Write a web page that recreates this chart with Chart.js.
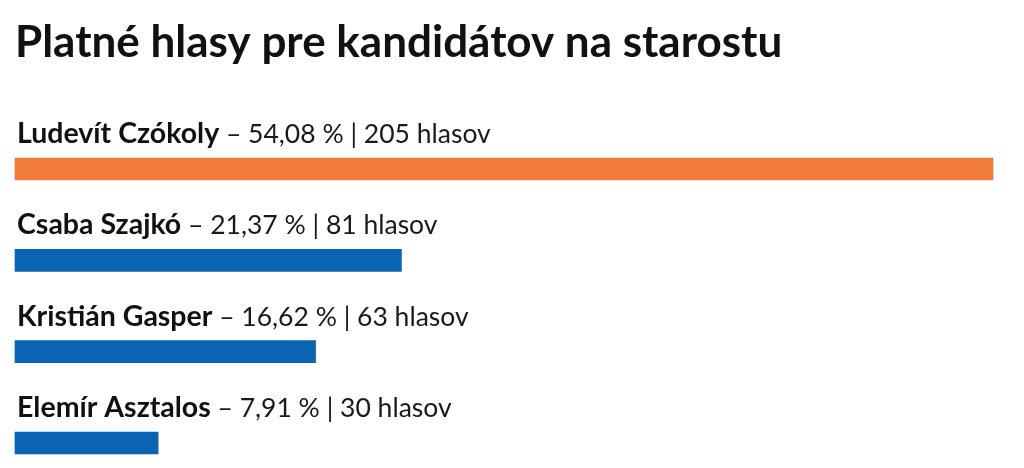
<!DOCTYPE html>
<html>
<head>
<meta charset="utf-8">
<script src="https://cdn.jsdelivr.net/npm/chart.js@4/dist/chart.umd.min.js"></script>
<style>
  html, body { margin: 0; padding: 0; background: #ffffff; }
  #wrap { position: relative; width: 1024px; height: 468px; }
</style>
</head>
<body>
<div id="wrap"><canvas id="c" width="1024" height="468"></canvas></div>
<script>
const titleText = 'Platné hlasy pre kandidátov na starostu';
const candidates = ['Ludevít Czókoly', 'Csaba Szajkó', 'Kristián Gasper', 'Elemír Asztalos'];
const votes = [205, 81, 63, 30];
const percents = [54.08, 21.37, 16.62, 7.91];
const barColors = ['#F07B3A', '#0B63B3', '#0B63B3', '#0B63B3'];

const FONT = 'Lato, "Noto Sans", sans-serif';

const labelPlugin = {
  id: 'barLabels',
  afterDatasetsDraw(chart) {
    const ctx = chart.ctx;
    const meta = chart.getDatasetMeta(0);
    ctx.save();
    ctx.textBaseline = 'alphabetic';
    ctx.textAlign = 'left';
    meta.data.forEach((bar, i) => {
      const props = bar.getProps(['x', 'y', 'base', 'height'], true);
      const top = props.y - props.height / 2;
      const x = chart.chartArea.left + 2;
      const y = top - 15;
      ctx.font = 'bold 28.5px ' + FONT;
      ctx.fillStyle = '#111111';
      const name = candidates[i];
      ctx.fillText(name, x, y);
      const w = ctx.measureText(name).width;
      ctx.font = '26.5px ' + FONT;
      ctx.fillStyle = '#1a1a1a';
      const rest = ' – ' + percents[i].toFixed(2).replace('.', ',') + ' % | ' + votes[i] + ' hlasov';
      ctx.fillText(rest, x + w, y);
    });
    ctx.restore();
  }
};

new Chart(document.getElementById('c'), {
  type: 'bar',
  data: {
    labels: candidates,
    datasets: [{
      data: votes,
      backgroundColor: barColors,
      borderWidth: 0,
      barThickness: 22,
      clip: false
    }]
  },
  options: {
    indexAxis: 'y',
    responsive: false,
    animation: false,
    events: [],
    layout: { padding: { left: 15, right: 31, top: 0, bottom: 25 } },
    scales: {
      x: { display: false, min: 0, max: Math.max(...votes) },
      y: { display: false, offset: false, grid: { display: false } }
    },
    plugins: {
      legend: { display: false },
      tooltip: { enabled: false },
      title: {
        display: true,
        text: titleText,
        align: 'start',
        color: '#111111',
        font: { family: FONT, size: 44, weight: 'bold', lineHeight: 1.2 },
        padding: { top: 16, bottom: 100.2 }
      }
    }
  },
  plugins: [labelPlugin]
});
</script>
</body>
</html>
